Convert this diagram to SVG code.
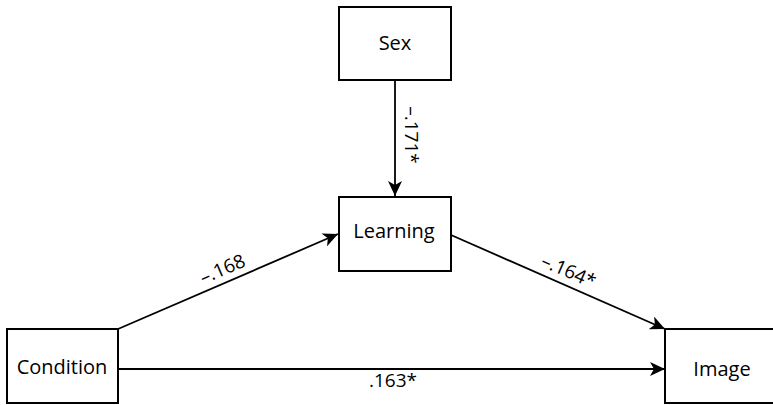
<svg xmlns="http://www.w3.org/2000/svg" width="773" height="405" viewBox="0 0 773 405">
<defs>
<style>
.box{fill:#fff;stroke:#000;stroke-width:2}
.lbl{font-family:"Open Sans","Noto Sans",sans-serif;font-size:20px;fill:#000;text-anchor:middle}
.coef{font-family:"Open Sans","Noto Sans",sans-serif;font-size:19px;fill:#000;text-anchor:middle}
.edge{stroke:#000;stroke-width:1.8;fill:none}
</style>
<marker id="arr" markerUnits="userSpaceOnUse" markerWidth="16" markerHeight="14" refX="15" refY="7" orient="auto">
<path d="M0,0 L15,7 L0,14 L4,7 z" fill="#000"/>
</marker>
</defs>
<rect width="773" height="405" fill="#fff"/>
<g id="connectors">
<line class="edge" x1="395" y1="80" x2="395" y2="196" marker-end="url(#arr)"/>
<line class="edge" x1="118" y1="329" x2="338" y2="234" marker-end="url(#arr)"/>
<line class="edge" x1="451" y1="235" x2="665" y2="329" marker-end="url(#arr)"/>
<line class="edge" x1="118" y1="369" x2="665" y2="369" marker-end="url(#arr)"/>
<text class="coef" transform="translate(405,135) rotate(90)">–.171*</text>
<text class="coef" transform="translate(225,275) rotate(-23.3)">–.168</text>
<text class="coef" transform="translate(566,277) rotate(23.7)">–.164*</text>
<text class="coef" x="393" y="387">.163*</text>
</g>
<g id="sex">
<rect class="box" x="339" y="7" width="112" height="73"/>
<text class="lbl" x="395" y="50">Sex</text>
</g>
<g id="learning">
<rect class="box" x="339" y="197" width="112" height="74"/>
<text class="lbl" x="394" y="238">Learning</text>
</g>
<g id="condition">
<rect class="box" x="7" y="329" width="111" height="74"/>
<text class="lbl" x="62" y="374">Condition</text>
</g>
<g id="image">
<rect class="box" x="665" y="329" width="114" height="74"/>
<text class="lbl" x="722" y="376">Image</text>
</g>
</svg>
